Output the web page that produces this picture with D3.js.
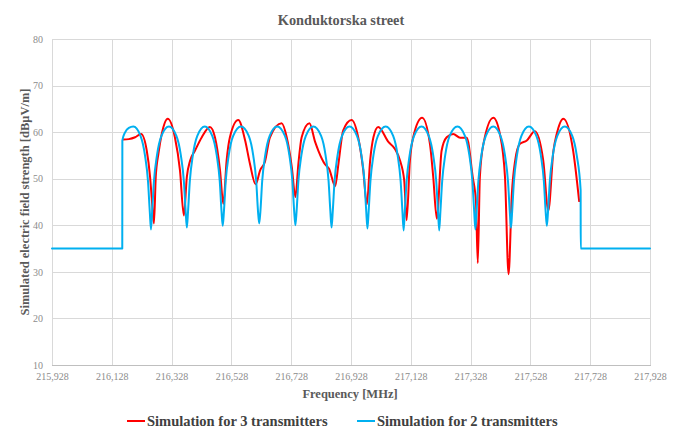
<!DOCTYPE html>
<html>
<head>
<meta charset="utf-8">
<script src="https://cdn.jsdelivr.net/npm/d3@7"></script>
<style>
  html, body { margin: 0; padding: 0; background: #fff; }
  svg { display: block; font-family: "Liberation Serif", "Times New Roman", serif; }
</style>
</head>
<body>
<svg id="chart" width="678" height="428"></svg>
<script>
// ---- Data (frequency in MHz, field strength in dBµV/m) ----
const chartTitle = "Konduktorska street";
const xTitle = "Frequency [MHz]";
const yTitle = "Simulated electric field strength [dBμV/m]";
const seriesNames = ["Simulation for 3 transmitters", "Simulation for 2 transmitters"];
const seriesColors = ["#ff0000", "#00b0f0"];
const xTickValues = [215.928, 216.128, 216.328, 216.528, 216.728, 216.928, 217.128, 217.328, 217.528, 217.728, 217.928];
const yTickValues = [10, 20, 30, 40, 50, 60, 70, 80];

const sim3 = [
  [216.166,58.4],[216.185,58.5],[216.206,58.9],[216.226,59.6],[216.245,56.0],[216.256,50.4],[216.263,44.6],[216.269,40.4],
  [216.275,50.4],[216.284,55.4],[216.295,59.6],[216.315,62.9],[216.339,58.9],[216.356,51.8],[216.369,42.1],[216.379,50.4],
  [216.390,53.9],[216.406,56.0],[216.429,58.9],[216.456,61.1],[216.473,58.9],[216.490,51.8],[216.501,44.6],[216.512,53.9],
  [216.523,58.9],[216.551,62.6],[216.574,58.2],[216.590,53.2],[216.609,48.8],[216.624,51.8],[216.640,53.6],[216.657,58.9],
  [216.696,61.9],[216.713,58.9],[216.730,52.5],[216.742,46.1],[216.752,53.2],[216.763,58.9],[216.789,61.9],[216.808,57.9],
  [216.819,56.0],[216.841,53.1],[216.855,52.1],[216.875,48.4],[216.886,53.2],[216.902,60.4],[216.930,62.6],[216.952,58.9],
  [216.969,51.8],[216.981,44.5],[216.992,53.9],[217.003,58.9],[217.019,61.1],[217.053,57.9],[217.075,56.4],[217.092,53.9],
  [217.106,49.6],[217.114,41.1],[217.125,53.9],[217.136,58.9],[217.166,63.1],[217.192,57.5],[217.203,50.4],[217.215,41.4],
  [217.231,56.0],[217.248,58.9],[217.270,59.6],[217.293,58.8],[217.315,58.8],[217.335,50.4],[217.346,45.0],[217.352,31.9],
  [217.359,50.4],[217.371,57.5],[217.404,63.1],[217.426,59.6],[217.443,50.4],[217.455,29.5],[217.466,46.8],[217.477,53.9],
  [217.493,57.5],[217.516,58.2],[217.543,60.2],[217.571,53.9],[217.588,43.2],[217.605,56.0],[217.616,59.6],[217.638,62.9],
  [217.671,56.0],[217.691,45.2]
];

const sim2 = [
  [215.928,35],[216.163,35],[216.1633,58.2],[216.172,59.9],[216.185,60.9],[216.200,61.2],
  [216.224,59.2],[216.239,55.0],[216.249,49.5],[216.255,43.0],[216.259,39.1],[216.263,43.0],[216.269,49.5],[216.279,55.0],[216.294,59.2],[216.319,61.2],
  [216.344,59.2],[216.359,55.0],[216.369,49.5],[216.375,43.0],[216.379,39.5],[216.383,43.0],[216.389,49.5],[216.399,55.0],[216.414,59.2],[216.439,61.2],
  [216.464,59.2],[216.479,55.0],[216.489,49.5],[216.495,43.0],[216.499,39.9],[216.503,43.0],[216.509,49.5],[216.519,55.0],[216.534,59.2],[216.560,61.2],
  [216.586,59.2],[216.601,55.0],[216.611,49.5],[216.617,43.0],[216.621,40.4],[216.625,43.0],[216.631,49.5],[216.641,55.0],[216.656,59.2],[216.681,61.2],
  [216.707,59.2],[216.722,55.0],[216.732,49.5],[216.738,43.0],[216.742,40.0],[216.746,43.0],[216.752,49.5],[216.762,55.0],[216.777,59.2],[216.802,61.2],
  [216.828,59.2],[216.843,55.0],[216.853,49.5],[216.859,43.0],[216.863,39.5],[216.867,43.0],[216.873,49.5],[216.883,55.0],[216.898,59.2],[216.923,61.2],
  [216.948,59.2],[216.963,55.0],[216.973,49.5],[216.979,43.0],[216.983,39.3],[216.987,43.0],[216.993,49.5],[217.003,55.0],[217.018,59.2],[217.044,61.2],
  [217.069,59.2],[217.084,55.0],[217.094,49.5],[217.100,43.0],[217.104,38.9],[217.108,43.0],[217.114,49.5],[217.124,55.0],[217.139,59.2],[217.164,61.2],
  [217.188,59.2],[217.203,55.0],[217.213,49.5],[217.219,43.0],[217.223,38.9],[217.227,43.0],[217.233,49.5],[217.243,55.0],[217.258,59.2],[217.284,61.2],
  [217.309,59.2],[217.324,55.0],[217.334,49.5],[217.340,43.0],[217.344,39.1],[217.348,43.0],[217.354,49.5],[217.364,55.0],[217.379,59.2],[217.404,61.2],
  [217.428,59.2],[217.443,55.0],[217.453,49.5],[217.459,43.0],[217.463,39.4],[217.467,43.0],[217.473,49.5],[217.483,55.0],[217.498,59.2],[217.523,61.2],
  [217.548,59.2],[217.563,55.0],[217.573,49.5],[217.579,43.0],[217.583,39.9],[217.587,43.0],[217.593,49.5],[217.603,55.0],[217.618,59.2],[217.643,61.2],
  [217.668,59.2],[217.683,55.0],[217.696,47.5],[217.6963,35],[217.928,35]
];

// ---- Layout ----
const svg = d3.select("#chart");
const plot = { left: 52, right: 650, top: 39, bottom: 365 };

const x = d3.scaleLinear().domain([215.928, 217.928]).range([plot.left, plot.right]);
const y = d3.scaleLinear().domain([10, 80]).range([plot.bottom, plot.top]);

const fmtX = d => d3.format(".3f")(d).replace(".", ",");

// Horizontal gridlines + y labels
const yAxis = d3.axisLeft(y).tickValues(yTickValues).tickSize(-(plot.right - plot.left)).tickPadding(9).tickFormat(d3.format("d"));
const gy = svg.append("g").attr("transform", `translate(${plot.left},0)`).call(yAxis);
gy.select(".domain").remove();
gy.selectAll(".tick line").attr("stroke", "#d9d9d9").attr("stroke-width", 1).attr("shape-rendering", "crispEdges");
gy.selectAll(".tick text").attr("fill", "#8c8c8c").style("font-size", "10px").style("font-family", "'Liberation Serif', serif");

// Vertical gridlines + x labels
const xAxis = d3.axisBottom(x).tickValues(xTickValues).tickSize(-(plot.bottom - plot.top)).tickPadding(8).tickFormat(fmtX);
const gx = svg.append("g").attr("transform", `translate(0,${plot.bottom})`).call(xAxis);
gx.select(".domain").attr("stroke", "#bfbfbf").attr("shape-rendering", "crispEdges");
gx.selectAll(".tick line").attr("stroke", "#d9d9d9").attr("stroke-width", 1).attr("shape-rendering", "crispEdges");
gx.selectAll(".tick text").attr("fill", "#8c8c8c").style("font-size", "10px").style("font-family", "'Liberation Serif', serif");

// Lines
const line = d3.line().x(d => x(d[0])).y(d => y(d[1])).curve(d3.curveMonotoneX);
[sim3, sim2].forEach((s, i) => {
  svg.append("path").datum(s)
    .attr("fill", "none")
    .attr("stroke", seriesColors[i])
    .attr("stroke-width", 2)
    .attr("stroke-linejoin", "round")
    .attr("stroke-linecap", "round")
    .attr("d", line);
});

// Title
svg.append("text").attr("x", 341).attr("y", 25).attr("text-anchor", "middle")
  .attr("fill", "#595959").style("font-size", "14.3px").style("font-weight", "bold").text(chartTitle);

// Axis titles
svg.append("text").attr("x", 350).attr("y", 397.5).attr("text-anchor", "middle")
  .attr("fill", "#595959").style("font-size", "12.5px").style("font-weight", "bold").text(xTitle);
svg.append("text").attr("transform", "translate(29,202) rotate(-90)").attr("text-anchor", "middle")
  .attr("fill", "#595959").style("font-size", "12.5px").style("font-weight", "bold").text(yTitle);

// Legend
const legendItems = [{ x: 127 }, { x: 357 }];
legendItems.forEach((it, i) => {
  const g = svg.append("g").attr("transform", `translate(${it.x},421)`);
  g.append("line").attr("x1", 0).attr("x2", 18).attr("y1", 0).attr("y2", 0)
    .attr("stroke", seriesColors[i]).attr("stroke-width", 2);
  g.append("text").attr("x", 20).attr("y", 5).attr("fill", "#404040")
    .style("font-size", "14.5px").style("font-weight", "bold").text(seriesNames[i]);
});
</script>
</body>
</html>
